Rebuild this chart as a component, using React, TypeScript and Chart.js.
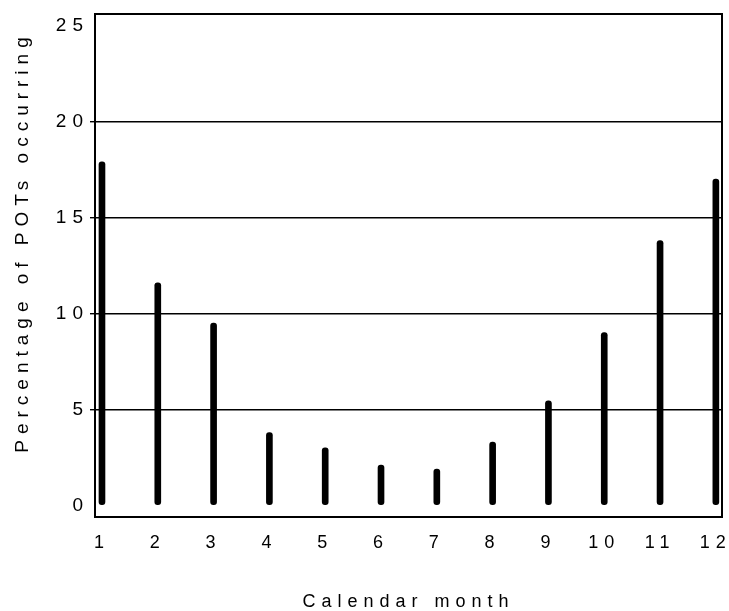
import React, { useEffect, useRef } from "react";
import { Chart, registerables } from "chart.js";

Chart.register(...registerables);

const months = [1, 2, 3, 4, 5, 6, 7, 8, 9, 10, 11, 12];
const percentages = [17.9, 11.6, 9.5, 3.8, 3.0, 2.1, 1.9, 3.3, 5.45, 9.0, 13.8, 17.0];
const yTicks = [0, 5, 10, 15, 20, 25];
const xTitle = "Calendar month";
const yTitle = "Percentage of POTs occurring";

const FONT = "'Liberation Sans', Arial, sans-serif";

export default function App() {
  const ref = useRef<HTMLCanvasElement>(null);

  useEffect(() => {
    const spacing = {
      id: "spacing",
      beforeDraw(c: any) {
        (c.ctx as any).letterSpacing = "6px";
      },
    };
    const frame = {
      id: "frame",
      afterDraw(c: any) {
        const { left, top, right, bottom } = c.chartArea;
        const ctx = c.ctx;
        ctx.save();
        ctx.strokeStyle = "#000";
        ctx.lineWidth = 2;
        ctx.strokeRect(left, top, right - left, bottom - top);
        // y-axis title (placed like the original, slightly above centre)
        (ctx as any).letterSpacing = "6px";
        ctx.translate(23, 245);
        ctx.rotate(-Math.PI / 2);
        ctx.fillStyle = "#000";
        ctx.font = `19px ${FONT}`;
        ctx.textAlign = "center";
        ctx.textBaseline = "middle";
        ctx.fillText(yTitle, 3, 0);
        ctx.restore();
      },
    };

    const chart = new Chart(ref.current!, {
      type: "bar",
      data: {
        datasets: [
          {
            data: months.map((m, i) => ({ x: m, y: percentages[i] })),
            backgroundColor: "#000",
            barThickness: 6,
            borderRadius: 3,
            borderSkipped: false,
          } as any,
        ],
      },
      options: {
        animation: false,
        responsive: false,
        maintainAspectRatio: false,
        layout: { padding: { top: 14, right: 7, bottom: 0, left: 0 } },
        plugins: { legend: { display: false }, tooltip: { enabled: false } },
        scales: {
          x: {
            type: "linear",
            min: 0.875,
            max: 12.11,
            offset: false,
            afterBuildTicks(s: any) {
              s.ticks = months.map((v) => ({ value: v }));
            },
            afterFit(s: any) {
              s.height = 94;
              s.paddingLeft = 0;
              s.paddingRight = 0;
            },
            grid: { display: false, drawTicks: false, offset: false },
            border: { display: false },
            ticks: {
              color: "#000",
              font: { family: FONT, size: 18 },
              padding: 15,
              maxRotation: 0,
              autoSkip: false,
            },
            title: {
              display: true,
              text: xTitle,
              color: "#000",
              font: { family: FONT, size: 18 },
              padding: { top: 0, bottom: -2 },
            },
          },
          y: {
            min: -0.6,
            max: 25.6,
            afterBuildTicks(s: any) {
              s.ticks = yTicks.map((v) => ({ value: v }));
            },
            afterFit(s: any) {
              s.width = 95;
              s.paddingTop = 0;
              s.paddingBottom = 0;
            },
            grid: {
              color: (ctx: any) =>
                ctx.tick && ctx.tick.value > 0 && ctx.tick.value < 25 ? "#000" : "rgba(0,0,0,0)",
              lineWidth: 1.4,
              tickLength: 5,
              drawTicks: true,
            },
            border: { display: false },
            ticks: {
              color: "#000",
              font: { family: FONT, size: 19 },
              padding: 1,
            },
            title: { display: false },
          },
        },
      } as any,
      plugins: [spacing, frame],
    });
    return () => chart.destroy();
  }, []);

  return (
    <div style={{ position: "fixed", left: 0, top: 0, width: 729, height: 611, background: "#fff" }}>
      <canvas ref={ref} width={729} height={611} style={{ width: 729, height: 611 }} />
    </div>
  );
}
